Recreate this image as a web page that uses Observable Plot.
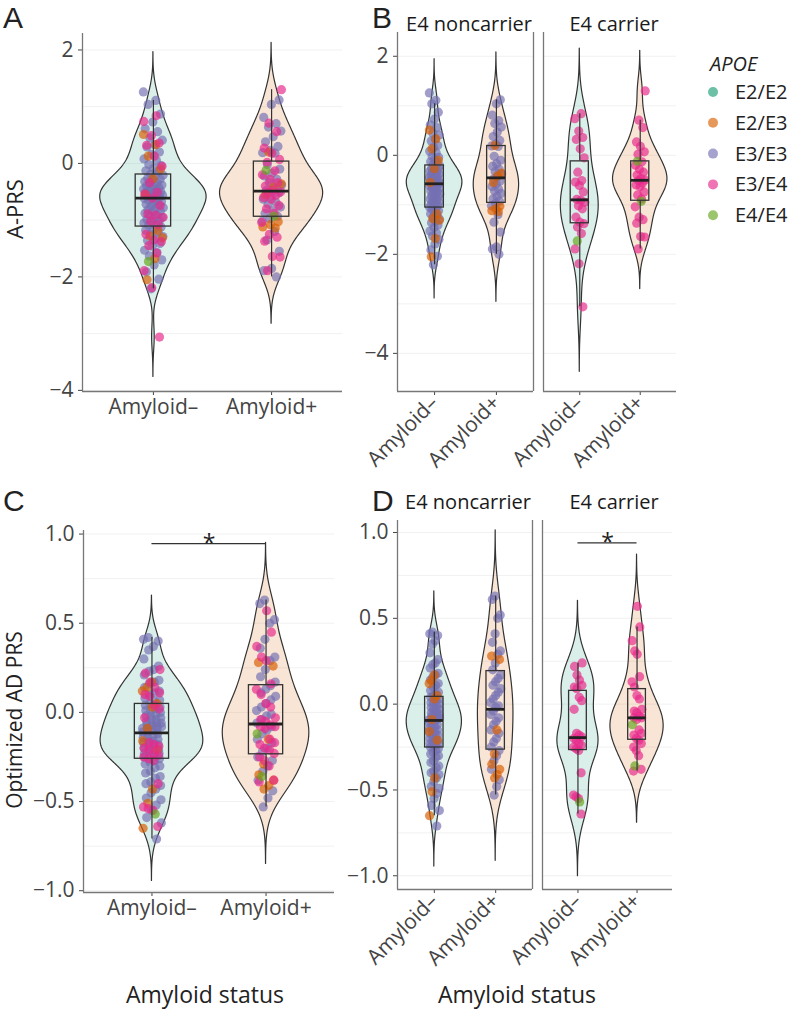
<!DOCTYPE html>
<html><head><meta charset="utf-8">
<script src="https://cdn.jsdelivr.net/npm/d3@7"></script>
<script src="https://cdn.jsdelivr.net/npm/@observablehq/plot@0.6"></script>
<style>
body{margin:0;background:#fff;}
#fig{position:relative;width:789px;height:1010px;overflow:hidden;font-family:"Open Sans",sans-serif;background:#fff;}
</style></head><body><div id="fig"></div>
<script>
// ---------- categories & labels ----------
const statuses = ["Amyloid–", "Amyloid+"];
const genotypes = ["E2/E2", "E2/E3", "E3/E3", "E3/E4", "E4/E4"];
const genoColors = ["#1B9E77", "#D95F02", "#7570B3", "#E7298A", "#66A61E"];
const statusFill = ["#1B9E77", "#D95F02"];
const carrierLabels = ["E4 noncarrier", "E4 carrier"];
const aprsTicks = [-4, -2, 0, 2];
const adprsTicks = [-1, -0.5, 0, 0.5, 1];

// ---------- A-PRS values (amyloid negative) ----------
const aprsNegE2E2 = [];
const aprsNegE2E3 = [0.51, 0.33, 0.13, -0.10, -0.27, -0.55, -1.18, -1.28, -1.31, -1.68, -2.05];
const aprsNegE3E3 = [1.26, 1.11, 1.04, 0.87, 0.73, 0.61, 0.56, 0.45, 0.41, 0.33, 0.29, 0.20, 0.16, 0.08, 0.05, -0.02, -0.04, -0.09, -0.13, -0.14, -0.19,
  -0.21, -0.22, -0.26, -0.28, -0.29, -0.32, -0.34, -0.35, -0.38, -0.39, -0.40, -0.43, -0.44, -0.45, -0.47, -0.48, -0.50, -0.51, -0.52, -0.54, -0.55, -0.56, -0.57,
  -0.58, -0.59, -0.61, -0.62, -0.65, -0.66, -0.67, -0.70, -0.72, -0.73, -0.76, -0.78, -0.79, -0.82, -0.84, -0.85, -0.88, -0.91, -0.92, -0.95, -0.97, -0.99, -1.01, -1.03, -1.05,
  -1.07, -1.09, -1.12, -1.16, -1.18, -1.21, -1.25, -1.29, -1.33, -1.36, -1.41, -1.46, -1.53, -1.57, -1.63, -1.70, -1.79, -1.91, -2.04, -2.21];
const aprsNegE3E4 = [-3.06, -2.19, -1.89, -1.58, -1.45, -1.38, -1.35, -1.25, -1.08, -1.02, -0.95, -0.91, -0.89, -0.74, -0.61, -0.54, -0.51, -0.34, -0.05, 0.13, 0.32, 0.36, 0.49, 0.74, 0.84];
const aprsNegE4E4 = [-1.73];
// ---------- A-PRS values (amyloid positive) ----------
const aprsPosE2E2 = [];
const aprsPosE2E3 = [0.20, -0.36, -0.42, -0.55, -1.03, -1.08, -1.12, -1.14];
const aprsPosE3E3 = [1.12, 1.04, 0.81, 0.70, 0.64, 0.57, 0.47, 0.38, 0.30, 0.23, 0.19, 0.18, -0.02, -0.10, -0.17, -0.22, -0.28, -0.33, -0.38, -0.43,
  -0.48, -0.52, -0.58, -0.63, -0.68, -0.72, -0.77, -0.83, -0.88, -0.93, -0.97, -1.02, -1.20, -1.35, -1.55, -1.85, -1.89, -2.00];
const aprsPosE3E4 = [-1.89, -1.65, -1.64, -1.37, -1.30, -1.25, -1.04, -0.88, -0.80, -0.74, -0.63, -0.60, -0.56, -0.51, -0.50, -0.47, -0.40, -0.34, -0.28, -0.20, -0.13, 0.02, 0.07, 0.18, 0.27, 0.56, 0.71, 1.30];
const aprsPosE4E4 = [-0.93, -0.12];

// ---------- Optimized AD PRS values (amyloid negative) ----------
const adprsNegE2E2 = [];
const adprsNegE2E3 = [0.17, 0.14, 0.12, 0.05, 0.03, -0.09, -0.16, -0.21, -0.43, -0.51, -0.65];
const adprsNegE3E3 = [0.42, 0.41, 0.40, 0.37, 0.35, 0.30, 0.26, 0.24, 0.23, 0.21, 0.18, 0.17, 0.16, 0.14, 0.12, 0.11, 0.10, 0.08, 0.07, 0.06, 0.05,
  0.04, 0.03, 0.02, 0.01, 0.01, 0.00, -0.01, -0.02, -0.02, -0.03, -0.04, -0.04, -0.05, -0.06, -0.06, -0.07, -0.07, -0.08, -0.08, -0.08, -0.09, -0.09, -0.09,
  -0.10, -0.11, -0.11, -0.12, -0.13, -0.14, -0.14, -0.15, -0.16, -0.16, -0.17, -0.18, -0.18, -0.19, -0.20, -0.21, -0.21, -0.22, -0.23, -0.23, -0.24, -0.24, -0.25,
  -0.26, -0.27, -0.28, -0.29, -0.30, -0.31, -0.33, -0.34, -0.36, -0.37, -0.39, -0.40, -0.41, -0.43, -0.45, -0.48, -0.49, -0.52, -0.55, -0.59, -0.62, -0.71];
const adprsNegE3E4 = [-0.64, -0.55, -0.54, -0.53, -0.40, -0.27, -0.26, -0.25, -0.24, -0.23, -0.21, -0.20, -0.19, -0.18, -0.17, -0.03, 0.02, 0.04, 0.09, 0.10, 0.11, 0.14, 0.17, 0.22, 0.24];
const adprsNegE4E4 = [-0.57];
// ---------- Optimized AD PRS values (amyloid positive) ----------
const adprsPosE2E2 = [];
const adprsPosE2E3 = [0.28, 0.26, -0.15, -0.29, -0.35, -0.38, -0.41, -0.43];
const adprsPosE3E3 = [0.63, 0.61, 0.52, 0.50, 0.41, 0.36, 0.31, 0.29, 0.24, 0.20, 0.17, 0.15, 0.13, 0.11, 0.09, 0.07, 0.05, 0.03, 0.01, -0.01,
  -0.02, -0.04, -0.06, -0.08, -0.10, -0.12, -0.15, -0.17, -0.20, -0.22, -0.25, -0.27, -0.30, -0.33, -0.38, -0.44, -0.48, -0.53];
const adprsPosE3E4 = [-0.39, -0.38, -0.30, -0.27, -0.25, -0.23, -0.21, -0.20, -0.18, -0.17, -0.15, -0.09, -0.08, -0.08, -0.07, -0.05, -0.04, -0.03, 0.03, 0.05, 0.10, 0.13, 0.16, 0.29, 0.31, 0.37, 0.45, 0.57];
const adprsPosE4E4 = [-0.36, -0.12];

// significance bar heights
const sigC = 0.946;
const sigD = 0.94;

// ---------- build records ----------
const groupDefs = [
  [0, "E3/E3", aprsNegE3E3, adprsNegE3E3], [0, "E2/E2", aprsNegE2E2, adprsNegE2E2], [0, "E2/E3", aprsNegE2E3, adprsNegE2E3],
  [0, "E3/E4", aprsNegE3E4, adprsNegE3E4], [0, "E4/E4", aprsNegE4E4, adprsNegE4E4],
  [1, "E3/E3", aprsPosE3E3, adprsPosE3E3], [1, "E2/E2", aprsPosE2E2, adprsPosE2E2], [1, "E2/E3", aprsPosE2E3, adprsPosE2E3],
  [1, "E3/E4", aprsPosE3E4, adprsPosE3E4], [1, "E4/E4", aprsPosE4E4, adprsPosE4E4]
];
const subjects = [];
groupDefs.forEach(([s, g, a, b]) => a.forEach((v, i) => subjects.push({
  status: s, geno: g, carrier: g.includes("4") ? 1 : 0, aprs: v, adprs: b[i]
})));
// deterministic horizontal jitter (low-discrepancy sequence)
subjects.forEach((d, i) => {
  d.j1 = (((i * 0.6180339887) % 1) - 0.5) * 0.17;
  d.j2 = (((i * 0.7548776662 + 0.31) % 1) - 0.5) * 0.17;
});

// ---------- helpers ----------
function bwNrd0(v) {
  const n = v.length, s = v.slice().sort(d3.ascending);
  const sd = d3.deviation(v) || 0;
  const iqr = d3.quantile(s, 0.75) - d3.quantile(s, 0.25);
  let lo = Math.min(sd, iqr / 1.34);
  if (!(lo > 0)) lo = sd || 1;
  return 0.9 * lo * Math.pow(n, -0.2);
}
function kde(v) {
  const bw = bwNrd0(v);
  const lo = d3.min(v) - 3 * bw, hi = d3.max(v) + 3 * bw, N = 256, out = [];
  for (let k = 0; k <= N; k++) {
    const y = lo + (hi - lo) * k / N;
    let s = 0;
    for (const x of v) { const u = (y - x) / bw; s += Math.exp(-0.5 * u * u); }
    out.push({y, d: s / (v.length * bw * Math.sqrt(2 * Math.PI))});
  }
  return out;
}
function boxStats(v) {
  const s = v.slice().sort(d3.ascending);
  const q1 = d3.quantile(s, 0.25), med = d3.quantile(s, 0.5), q3 = d3.quantile(s, 0.75);
  const iqr = q3 - q1;
  return {q1, med, q3, lo: d3.min(s.filter(x => x >= q1 - 1.5 * iqr)), hi: d3.max(s.filter(x => x <= q3 + 1.5 * iqr))};
}
const fmtA = v => (v < 0 ? "−" : "") + Math.abs(v);
const fmtC = v => (v < 0 ? "−" : "") + Math.abs(v).toFixed(1);

const fig = document.getElementById("fig");

function drawPanel(o) {
  const xDom = [0.4, 2.6];
  const mL = o.px0 - o.left, mR = o.left + o.w - o.px1, mT = o.py0 - o.top, mB = o.top + o.h - o.py1;
  const data = o.data, f = o.field, jit = o.jit;
  const marks = [];
  marks.push(Plot.ruleY(o.grid, {stroke: "#f1f1f1", strokeWidth: 1}));
  const vals = [0, 1].map(s => data.filter(d => d.status === s).map(d => d[f]));
  const dens = vals.map(kde);
  const maxD = d3.max(dens, g => d3.max(g, p => p.d));
  dens.forEach((g, s) => {
    const c = s + 1;
    marks.push(Plot.areaX(g.map(p => ({y: p.y, a: c - 0.45 * p.d / maxD, b: c + 0.45 * p.d / maxD})),
      {y: "y", x1: "a", x2: "b", fill: statusFill[s], fillOpacity: 0.16, stroke: "#333", strokeWidth: 1.2}));
  });
  marks.push(Plot.dot(data, {x: d => d.status + 1 + d[jit], y: f, r: 4.6, fill: "geno", fillOpacity: 0.68}));
  vals.forEach((v, s) => {
    const b = boxStats(v), c = s + 1;
    marks.push(Plot.ruleX([{x: c, a: b.q3, b: b.hi}, {x: c, a: b.lo, b: b.q1}], {x: "x", y1: "a", y2: "b", stroke: "#333", strokeWidth: 1.2}));
    marks.push(Plot.rect([{a: c - 0.15, b: c + 0.15, c: b.q1, d: b.q3}], {x1: "a", x2: "b", y1: "c", y2: "d", fill: "none", stroke: "#333", strokeWidth: 1.3}));
    marks.push(Plot.ruleY([{y: b.med, a: c - 0.15, b: c + 0.15}], {y: "y", x1: "a", x2: "b", stroke: "#222", strokeWidth: 2.8}));
  });
  if (o.sig != null) {
    marks.push(Plot.ruleY([{y: o.sig, a: 1, b: 2}], {y: "y", x1: "a", x2: "b", stroke: "#333", strokeWidth: 1.2}));
    marks.push(Plot.text([{x: 1.5, y: o.sig}], {x: "x", y: "y", text: () => "*", fontSize: 23, fill: "#222"}));
  }
  // axis / panel lines
  marks.push(Plot.ruleX([xDom[0]], {stroke: "#777", strokeWidth: 1.3}));
  if (o.rightLine) marks.push(Plot.ruleX([xDom[1]], {stroke: "#777", strokeWidth: 1.3}));
  marks.push(Plot.ruleY([o.yDomain[0]], {stroke: "#777", strokeWidth: 1.3}));

  const svg = Plot.plot({
    width: o.w, height: o.h,
    marginLeft: mL, marginRight: mR, marginTop: mT, marginBottom: mB,
    style: {fontFamily: "'Open Sans', sans-serif", fontSize: "21px", color: "#444", background: "none", overflow: "visible"},
    x: {domain: xDom, ticks: [1, 2], tickFormat: i => statuses[i - 1], tickSize: 4, tickPadding: 4, label: null, tickRotate: o.rotate ? -45 : 0},
    y: {domain: o.yDomain, ticks: o.yTicks, tickFormat: o.yFmt, tickSize: 4, tickPadding: 5, label: null, axis: o.showY ? "left" : null},
    color: {domain: genotypes, range: genoColors},
    marks
  });
  svg.style.position = "absolute";
  svg.style.left = o.left + "px";
  svg.style.top = o.top + "px";
  fig.appendChild(svg);
}

const nonc = subjects.filter(d => d.carrier === 0), carr = subjects.filter(d => d.carrier === 1);
const gridA = [-4, -3, -2, -1, 0, 1, 2];
const gridC = [-1, -0.75, -0.5, -0.25, 0, 0.25, 0.5, 0.75, 1];
const domA = [-4.02, 2.29], domB = [-4.77, 2.48], domC = [-1.01, 1.02], domD = [-1.08, 1.07];

// Panel A
drawPanel({data: subjects, field: "aprs", jit: "j1", yDomain: domA, yTicks: aprsTicks, yFmt: fmtA, grid: gridA,
  px0: 82, px1: 342, py0: 33, py1: 391, left: 0, top: 0, w: 350, h: 430, showY: true, rotate: false});
// Panel B
drawPanel({data: nonc, field: "aprs", jit: "j1", yDomain: domB, yTicks: aprsTicks, yFmt: fmtA, grid: gridA,
  px0: 397, px1: 533, py0: 32, py1: 391, left: 340, top: 0, w: 198, h: 475, showY: true, rotate: true, rightLine: true});
drawPanel({data: carr, field: "aprs", jit: "j1", yDomain: domB, yTicks: aprsTicks, yFmt: fmtA, grid: gridA,
  px0: 543, px1: 676, py0: 32, py1: 391, left: 538, top: 0, w: 150, h: 475, showY: false, rotate: true});
// Panel C
drawPanel({data: subjects, field: "adprs", jit: "j2", yDomain: domC, yTicks: adprsTicks, yFmt: fmtC, grid: gridC,
  px0: 83, px1: 334, py0: 530, py1: 892, left: 0, top: 480, w: 350, h: 450, showY: true, rotate: false, sig: sigC});
// Panel D
drawPanel({data: nonc, field: "adprs", jit: "j2", yDomain: domD, yTicks: adprsTicks, yFmt: fmtC, grid: gridC,
  px0: 397, px1: 532, py0: 520, py1: 889, left: 340, top: 480, w: 197, h: 500, showY: true, rotate: true, rightLine: true});
drawPanel({data: carr, field: "adprs", jit: "j2", yDomain: domD, yTicks: adprsTicks, yFmt: fmtC, grid: gridC,
  px0: 542, px1: 672, py0: 520, py1: 889, left: 537, top: 480, w: 150, h: 500, showY: false, rotate: true, sig: sigD});

// ---------- annotations overlay ----------
const ov = d3.select(fig).append("svg").attr("width", 789).attr("height", 1010)
  .style("position", "absolute").style("left", "0px").style("top", "0px")
  .style("pointer-events", "none").style("font-family", "'Open Sans', sans-serif");
[["A", 3, 28], ["B", 372, 28], ["C", 3, 511], ["D", 372, 511]].forEach(([t, x, y]) =>
  ov.append("text").attr("x", x).attr("y", y).attr("font-size", 30).attr("font-family", "'Liberation Sans', Arial, sans-serif")
    .attr("fill", "#222").text(t));
ov.append("text").attr("transform", "translate(23,209) rotate(-90)").attr("text-anchor", "middle")
  .attr("font-size", 22).attr("fill", "#222").text("A-PRS");
ov.append("text").attr("transform", "translate(22,720) rotate(-90)").attr("text-anchor", "middle")
  .attr("font-size", 21).attr("fill", "#222").text("Optimized AD PRS");
[[469, 31, 0], [614, 31, 1], [468, 509, 0], [614, 509, 1]].forEach(([x, y, k]) =>
  ov.append("text").attr("x", x).attr("y", y).attr("text-anchor", "middle").attr("font-size", 20).attr("fill", "#1a1a1a").text(carrierLabels[k]));
[205, 517].forEach(x => ov.append("text").attr("x", x).attr("y", 1003).attr("text-anchor", "middle")
  .attr("font-size", 23).attr("fill", "#222").text("Amyloid status"));
// legend
ov.append("text").attr("x", 710).attr("y", 71).attr("font-size", 20).attr("font-style", "italic").attr("fill", "#222").text("APOE");
genotypes.forEach((g, i) => {
  const y = 92 + i * 30.8;
  ov.append("circle").attr("cx", 713).attr("cy", y).attr("r", 5).attr("fill", genoColors[i]).attr("fill-opacity", 0.65);
  ov.append("text").attr("x", 735).attr("y", y).attr("dy", "0.35em").attr("font-size", 20).attr("fill", "#222").text(g);
});
</script></body></html>
